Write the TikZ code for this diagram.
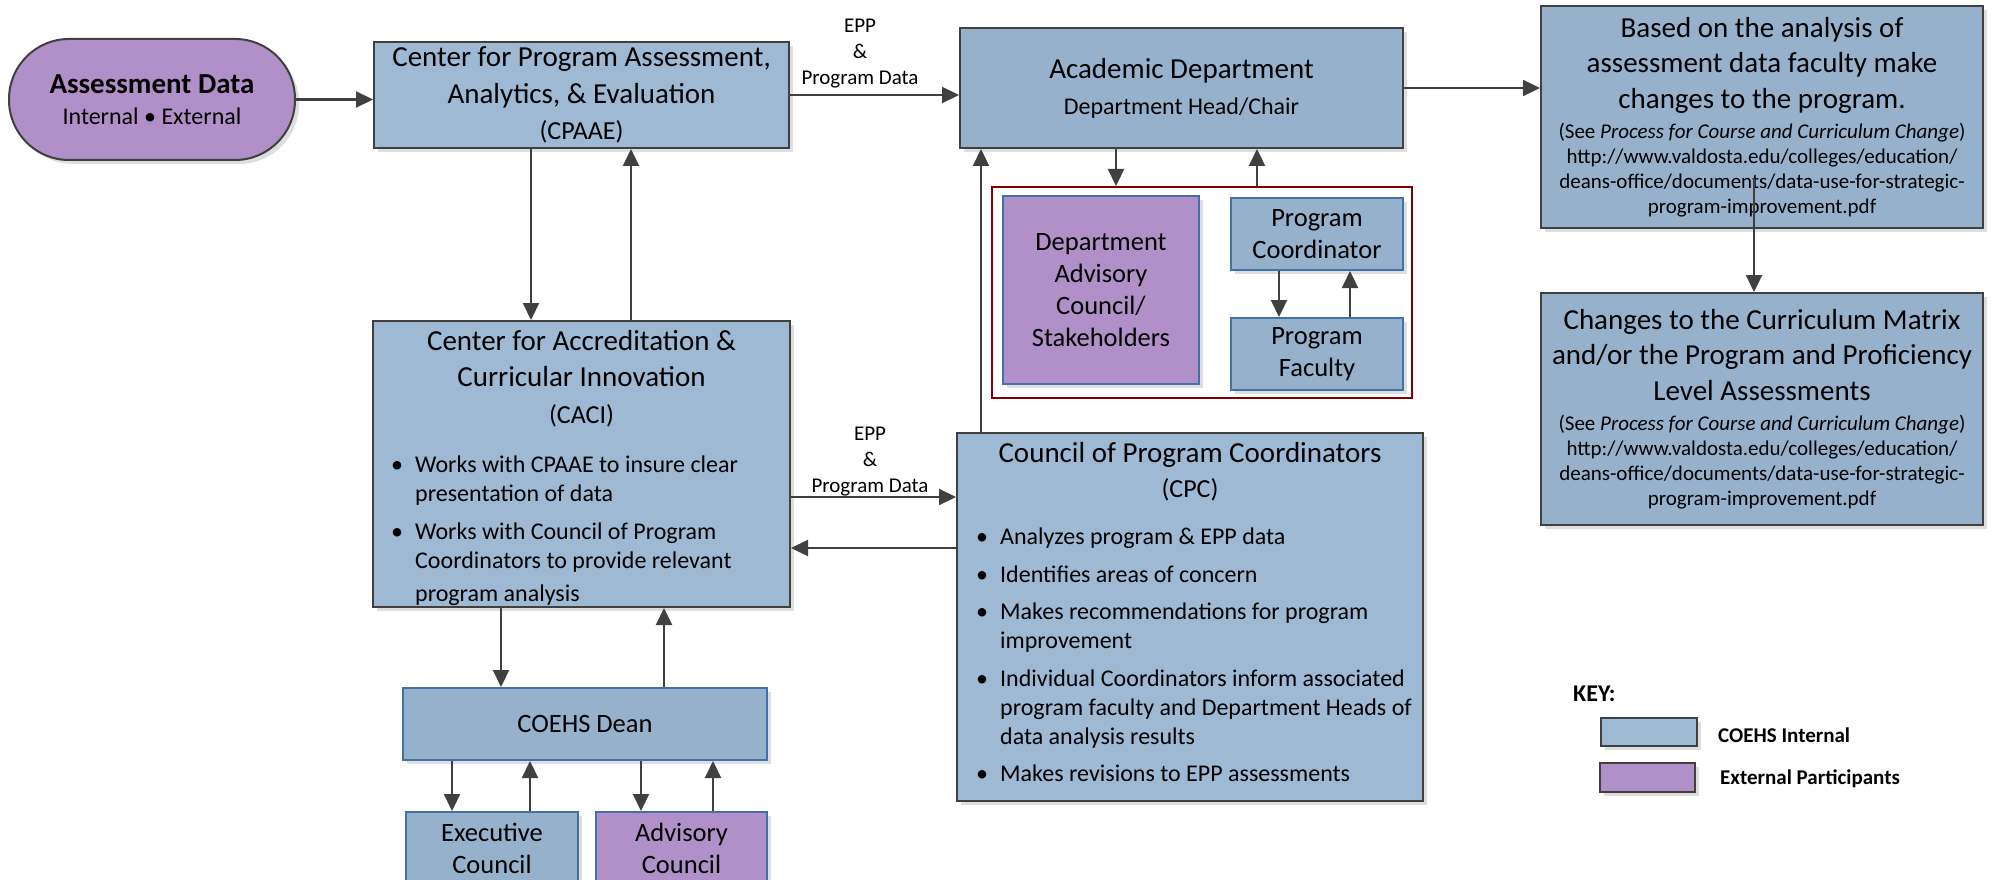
\documentclass[tikz,border=0pt]{standalone}
\usepackage{fontspec}
\setmainfont{Carlito}
\usetikzlibrary{arrows.meta,shadows}

\definecolor{coehs}{RGB}{158,185,211}
\definecolor{coehsd}{RGB}{150,177,204}
\definecolor{extp}{RGB}{177,143,200}
\definecolor{greyline}{RGB}{64,64,64}
\definecolor{blueline}{RGB}{65,113,167}
\definecolor{redline}{RGB}{128,0,0}

\newcommand{\fs}[2]{\fontsize{#1}{#2}\selectfont}
\newcommand{\ctext}[2]{\begin{minipage}[t]{#1pt}\centering #2\end{minipage}}
\newcommand{\ltext}[2]{\begin{minipage}[t]{#1pt}#2\end{minipage}}
\newcommand{\firstbul}{\hangindent=24pt\hangafter=1\noindent\makebox[24pt][l]{\textbullet}}
\newcommand{\nextbul}{\par\vspace{8.5pt}\firstbul}

\begin{document}
\begin{tikzpicture}[x=1pt, y=-1pt,
    every node/.style={inner sep=0pt, text=black},
    shade/.style={drop shadow={shadow xshift=4pt, shadow yshift=-4pt, fill=black, opacity=0.13}},
    unitbox/.style={draw=greyline, line width=2pt, fill=coehs, shade},
    partbox/.style={draw=blueline, line width=2pt, fill=coehsd, shade},
    pillbox/.style={unitbox, fill=extp, rounded corners=60pt},
    flowarr/.style={draw=greyline, line width=2.2pt, -{Stealth[inset=0pt, length=17pt, width=16pt]}}]
    \useasboundingbox (0,0) rectangle (1992,880);
    \clip (0,0) rectangle (1992,880);

    \node[pillbox, minimum width=286, minimum height=121] (adata) at (152,99.5)
        {\ctext{276}{\fs{29}{31}\bfseries Assessment Data\\ \mdseries\fs{24}{31}Internal \textbullet{} External}};
    \node[unitbox, minimum width=415, minimum height=106] (cpaae) at (581.5,95)
        {\ctext{405}{\fs{29}{36.5}Center for Program Assessment,\\ Analytics, \& Evaluation\\ \fs{26}{36.5}(CPAAE)}};
    \node[unitbox, fill=coehsd, minimum width=443, minimum height=120] (acad) at (1181.5,88)
        {\ctext{433}{\fs{29}{36}Academic Department\\ \fs{24}{36}Department Head/Chair}};
    \node[anchor=base] (epptop) at (860,33) {\ctext{130}{\fs{21}{26}EPP\\ \&\\ Program Data}};

    \node[unitbox, fill=coehsd, minimum width=442, minimum height=222] (chg) at (1762,117)
        {\ctext{436}{\fs{29}{35.5}Based on the analysis of\\ assessment data faculty make\\ changes to the program.\par
         \vspace{5pt}\fs{21}{25}(See \textit{Process for Course and Curriculum Change})\\
         http://www.valdosta.edu/colleges/education/\\ deans-office/documents/data-use-for-strategic-\\
         program-improvement.pdf}};
    \node[unitbox, fill=coehsd, minimum width=442, minimum height=232] (mtx) at (1762,409)
        {\ctext{436}{\fs{29}{35.5}Changes to the Curriculum Matrix\\ and/or the Program and Proficiency\\ Level Assessments\par
         \vspace{5pt}\fs{21}{25}(See \textit{Process for Course and Curriculum Change})\\
         http://www.valdosta.edu/colleges/education/\\ deans-office/documents/data-use-for-strategic-\\
         program-improvement.pdf}};

    \node[draw=redline, line width=2pt, minimum width=420, minimum height=211] (deptgrp) at (1202,292.5) {};
    \node[partbox, fill=extp, minimum width=196, minimum height=188] (dac) at (1101,290)
        {\ctext{190}{\fs{26.5}{32}Department\\ Advisory\\ Council/\\ Stakeholders}};
    \node[partbox, minimum width=172, minimum height=72] (pcoord) at (1317,234)
        {\ctext{166}{\fs{26.5}{32}Program\\ Coordinator}};
    \node[partbox, minimum width=172, minimum height=72] (pfac) at (1317,354)
        {\ctext{166}{\fs{26.5}{32}Program\\ Faculty}};

    \node[unitbox, minimum width=417, minimum height=286] (caci) at (581.5,464) {};
    \node[anchor=base] (cacititle) at (581.5,350)
        {\ctext{400}{\fs{29}{36.5}Center for Accreditation \&\\ Curricular Innovation\\ \fs{26}{36.5}(CACI)}};
    \node[anchor=base west] (cacilist) at (391,472.6)
        {\ltext{390}{\fs{24}{29}\firstbul Works with CPAAE to insure clear\\ presentation of data
         \nextbul Works with Council of Program\\ Coordinators to provide relevant\\[4pt] program analysis}};
    \node[anchor=base] (eppmid) at (870,440) {\ctext{130}{\fs{21}{26}EPP\\ \&\\ Program Data}};

    \node[unitbox, minimum width=466, minimum height=368] (cpc) at (1190,617) {};
    \node[anchor=base] (cpctitle) at (1190,462)
        {\ctext{440}{\fs{29}{35}Council of Program Coordinators\\ \fs{26}{35}(CPC)}};
    \node[anchor=base west] (cpclist) at (976,544.6)
        {\ltext{470}{\fs{24}{29}\firstbul Analyzes program \& EPP data
         \nextbul Identifies areas of concern
         \nextbul Makes recommendations for program\\ improvement
         \nextbul Individual Coordinators inform associated\\ program faculty and Department Heads of\\ data analysis results
         \nextbul Makes revisions to EPP assessments}};

    \node[partbox, minimum width=364, minimum height=72] (dean) at (585,724) {\fs{26.5}{32}COEHS Dean};
    \node[partbox, minimum width=172, minimum height=72] (exec) at (492,848)
        {\ctext{166}{\fs{26.5}{32}Executive\\ Council}};
    \node[partbox, fill=extp, minimum width=171, minimum height=72] (adv) at (681.5,848)
        {\ctext{165}{\fs{26.5}{32}Advisory\\ Council}};

    \node[font=\bfseries\fs{24}{28}, anchor=base west] (keyhead) at (1573,701) {KEY:};
    \node[unitbox, minimum width=96, minimum height=28] (keyint) at (1649,732) {};
    \node[unitbox, fill=extp, minimum width=95, minimum height=29] (keyext) at (1647.5,777.5) {};
    \node[font=\bfseries\fs{21}{25}, anchor=base west] (keyintl) at (1718,742) {COEHS Internal};
    \node[font=\bfseries\fs{21}{25}, anchor=base west] (keyextl) at (1720,784) {External Participants};

    \draw[flowarr] (adata.east) -- (adata.east -| cpaae.west);
    \draw[flowarr] (cpaae.east) -- (cpaae.east -| acad.west);
    \draw[flowarr] (acad.east) -- (acad.east -| chg.west);
    \draw[flowarr] ([xshift=-8pt,yshift=51pt]chg.south) -- ([xshift=-8pt]mtx.north);
    \draw[flowarr] ([xshift=-50.5pt]cpaae.south) -- ([xshift=-50.5pt]caci.north);
    \draw[flowarr] ([xshift=49.5pt]caci.north) -- ([xshift=49.5pt]cpaae.south);
    \draw[flowarr] ([yshift=-33pt]caci.east) -- ([yshift=-33pt]caci.east -| cpc.west);
    \draw[flowarr] ([yshift=-84pt]caci.east -| cpc.west) -- ([yshift=-84pt]caci.east);
    \draw[flowarr] ([xshift=-209pt]cpc.north) -- ([xshift=-209pt]cpc.north |- acad.south);
    \draw[flowarr] ([xshift=-65.5pt]acad.south) -- ([xshift=-65.5pt]acad.south |- deptgrp.north);
    \draw[flowarr] ([xshift=75.5pt]acad.south |- deptgrp.north) -- ([xshift=75.5pt]acad.south);
    \draw[flowarr] ([xshift=-38pt]pcoord.south) -- ([xshift=-38pt]pfac.north);
    \draw[flowarr] ([xshift=33pt]pfac.north) -- ([xshift=33pt]pcoord.south);
    \draw[flowarr] ([xshift=-80.5pt]caci.south) -- ([xshift=-80.5pt]caci.south |- dean.north);
    \draw[flowarr] ([xshift=82.5pt]caci.south |- dean.north) -- ([xshift=82.5pt]caci.south);
    \draw[flowarr] ([xshift=-40pt]exec.north |- dean.south) -- ([xshift=-40pt]exec.north);
    \draw[flowarr] ([xshift=38pt]exec.north) -- ([xshift=38pt]exec.north |- dean.south);
    \draw[flowarr] ([xshift=-40.5pt]adv.north |- dean.south) -- ([xshift=-40.5pt]adv.north);
    \draw[flowarr] ([xshift=31.5pt]adv.north) -- ([xshift=31.5pt]adv.north |- dean.south);
\end{tikzpicture}
\end{document}
